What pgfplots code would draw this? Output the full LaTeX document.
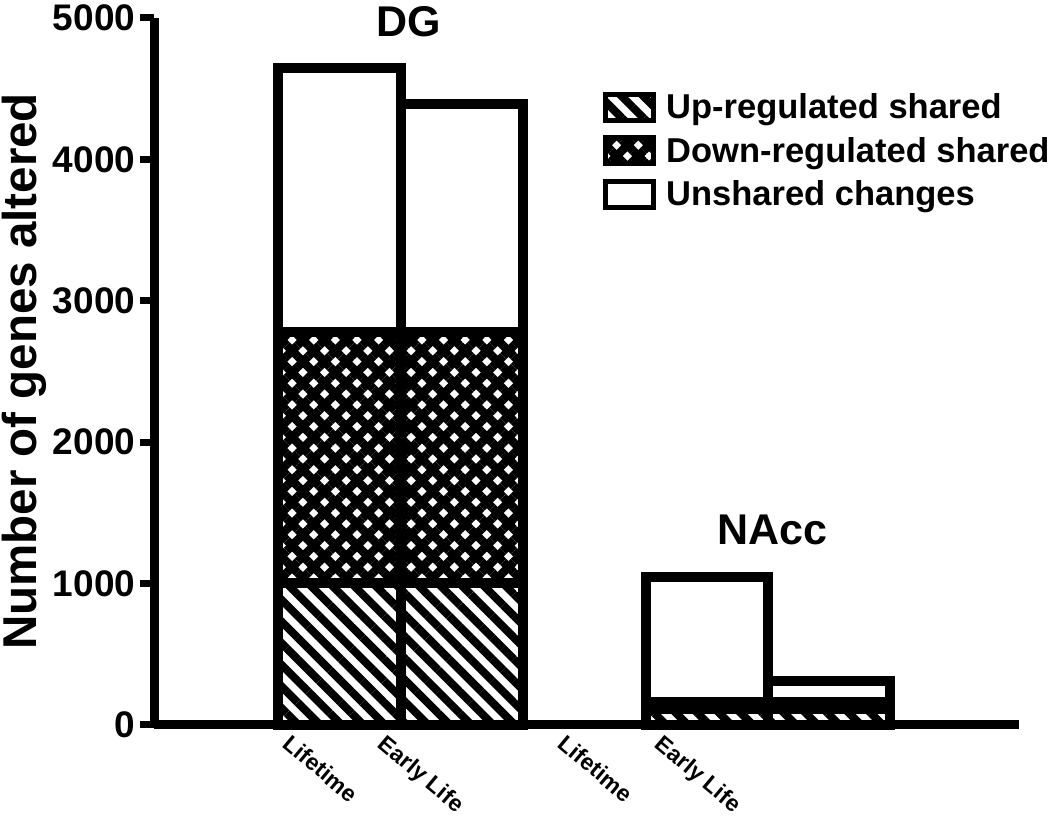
\documentclass[border=0pt]{standalone}
\usepackage{fontspec}
\setmainfont{Liberation Sans}
\usepackage{pgfplots}
\pgfplotsset{compat=1.18}
\usetikzlibrary{patterns.meta}

\newcommand\tickfont{\fontsize{37}{40}\selectfont\bfseries}
\newcommand\xfont{\fontsize{23}{26}\selectfont\bfseries}
\newcommand\ylabfont{\fontsize{47.5}{50}\selectfont\bfseries}
\newcommand\legfont{\fontsize{34.5}{38}\selectfont\bfseries}
\newcommand\grpfont{\fontsize{43}{46}\selectfont\bfseries}

\tikzset{
  upstyle/.style={draw=black, pattern={Lines[angle=-45,distance=15.3pt,line width=8pt]}},
  downstyle/.style={draw=black, pattern={Lines[angle=45,distance=15.3pt,line width=8.5pt]},
     postaction={pattern={Lines[angle=-45,distance=15.3pt,line width=8.5pt]}}},
  unstyle/.style={draw=black, fill=white},
}

\begin{document}
\begin{tikzpicture}
\begin{axis}[
  scale only axis, width=864.5pt, height=707pt,
  xmin=154.5, xmax=1019, ymin=0, ymax=5000,
  axis x line=bottom, axis y line=left,
  axis line style={-, line width=9pt, black},
  clip=false,
  ybar stacked, bar width=122,
  ytick={0,1000,2000,3000,4000,5000},
  yticklabel style={font=\tickfont, anchor=east, inner sep=0pt, xshift=-5pt, /pgf/number format/1000 sep={}},
  tick align=outside, major tick length=14pt,
  ytick style={line width=7pt, black},
  xtick={288,383,563,660},
  xticklabels={Lifetime,Early Life,Lifetime,Early Life},
  xtick style={draw=none},
  xticklabel style={font=\xfont, rotate=-40, anchor=north west, inner sep=0pt, yshift=7pt},
  /pgf/number format/assume math mode=true,
  scaled y ticks=false,
  ylabel={Number of genes altered},
  ylabel style={font=\ylabfont, at={(axis cs:37,2500)}, anchor=base},
  legend style={at={(axis cs:602.5,4480)}, anchor=north west, draw=none, fill=none,
     inner sep=0pt, font=\legfont, row sep=12.5pt, nodes={inner sep=0pt}},
  legend cell align=left,
  legend image code/.code={\draw[#1, line width=5pt] (0pt,-13pt) rectangle (48pt,13pt); \path (56pt,0pt);},
]
\addplot[upstyle, line width=10pt] coordinates {(339.5,1005) (462,1005) (707,115) (829,115)};
\addplot[downstyle, line width=10pt] coordinates {(339.5,1774) (462,1774) (707,45) (829,45)};
\addplot[unstyle, line width=10pt] coordinates {(339.5,1867) (462,1613) (707,885) (829,151)};
\legend{Up-regulated shared, Down-regulated shared, Unshared changes}
\node[font=\grpfont, anchor=base] at (axis cs:408.5,4866) {DG};
\node[font=\grpfont, anchor=base] at (axis cs:772.5,1273) {NAcc};
\coordinate (bbA) at (axis cs:0,5127.3);
\coordinate (bbB) at (axis cs:1050,-643.6);
\end{axis}
\pgfresetboundingbox
\path (bbA) rectangle (bbB);
\end{tikzpicture}
\end{document}
